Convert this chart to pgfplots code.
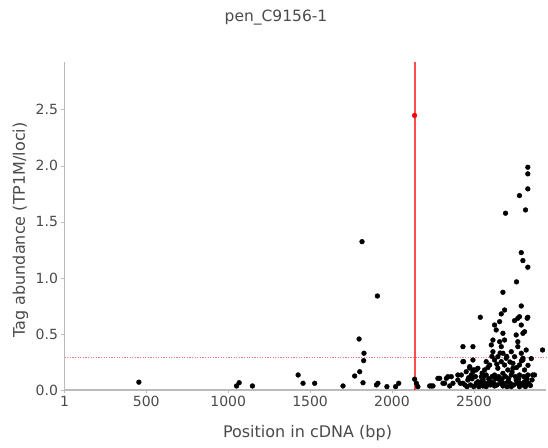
\documentclass[border=0pt]{standalone}
\usepackage{fontspec}
\setmainfont{DejaVu Sans}
\usepackage{pgfplots}
\pgfplotsset{compat=1.18}

\definecolor{spine}{HTML}{BBBBBB}
\definecolor{txt}{HTML}{4A4A4A}
\definecolor{pinkline}{HTML}{F27C7C}

\begin{document}
\begin{tikzpicture}
\path[use as bounding box] (-64.5pt,-57pt) rectangle (483.5pt,390pt);
\begin{axis}[
  at={(0,0)}, anchor=south west,
  scale only axis, width=481.5pt, height=328.3pt,
  xmin=1, xmax=2940, ymin=0, ymax=2.93,
  axis x line*=bottom, axis y line*=left,
  axis line style={spine, line width=1.6pt},
  tick align=outside, major tick length=3pt,
  tick style={spine, line width=0.8pt},
  xtick={1,500,1000,1500,2000,2500},
  ytick={0,0.5,1,1.5,2,2.5},
  yticklabel style={/pgf/number format/.cd, fixed, fixed zerofill, precision=1},
  xticklabel style={/pgf/number format/1000 sep={}},
  /pgf/number format/assume math mode=true,
  ticklabel style={font=\fontsize{14}{16}\selectfont, text=txt},
  clip=false,
]
\addplot[pinkline, dash pattern=on 1.3pt off 1.3pt, line width=1pt] coordinates {(1,0.29) (2940,0.29)};
\addplot[red, opacity=0.7, line width=2pt] coordinates {(2138,0) (2138,2.93)};
\addplot[only marks, mark=*, mark size=2.4pt, mark options={draw=black, fill=black}] coordinates {
(455,0.07)(1051,0.036)(1067,0.065)(1148,0.036)(1427,0.134)(1457,0.06)(1528,0.06)
(1701,0.036)(1772,0.125)(1803,0.163)(1823,0.065)(1799,0.455)(1829,0.328)(1827,0.262)
(1817,1.324)(1911,0.839)(1905,0.045)(1914,0.06)(1969,0.03)(2022,0.03)(2041,0.06)
(2138,0.096)(2149,0.06)(2158,0.03)
(2230,0.036)(2240,0.036)(2250,0.036)(2280,0.104)(2291,0.104)(2311,0.06)(2321,0.06)
(2332,0.104)(2341,0.119)(2352,0.036)(2362,0.119)(2372,0.06)(2402,0.134)(2402,0.089)
(2417,0.06)(2423,0.134)(2433,0.387)(2433,0.253)(2433,0.06)(2437,0.253)(2453,0.163)
(2463,0.089)(2474,0.208)(2474,0.196)(2484,0.134)(2494,0.387)(2494,0.268)(2494,0.179)
(2494,0.163)(2504,0.179)(2514,0.179)(2514,0.06)(2524,0.194)(2524,0.074)(2539,0.649)
(2545,0.119)(2555,0.036)(2555,0.089)(2565,0.06)
(2789,0.75)(2687,0.714)(2667,0.679)(2778,0.654)(2829,0.649)(2748,0.619)(2657,0.61)
(2789,0.58)(2626,0.58)(2636,0.536)(2677,0.506)(2758,0.491)(2799,0.506)(2616,0.446)
(2657,0.431)(2687,0.446)(2768,0.431)(2606,0.402)(2667,0.387)(2768,0.387)(2819,0.357)
(2919,0.357)(2616,0.342)(2677,0.328)(2728,0.342)(2789,0.328)(2646,0.297)(2697,0.283)
(2748,0.297)(2575,0.253)(2626,0.268)(2667,0.253)(2799,0.268)(2596,0.223)(2687,0.223)
(2738,0.238)(2778,0.223)(2565,0.179)(2646,0.194)(2707,0.179)(2738,0.194)(2809,0.179)
(2859,0.134)(2575,0.134)(2626,0.134)(2677,0.149)(2728,0.134)(2778,0.134)(2829,0.134)
(2555,0.089)(2606,0.074)(2657,0.089)(2707,0.074)(2758,0.089)(2809,0.074)(2575,0.03)
(2626,0.036)(2677,0.036)(2728,0.03)(2778,0.03)(2819,0.045)(2870,0.134)
(2768,0.64)(2825,0.64)(2809,0.52)(2799,0.283)
(2677,0.872)(2760,0.965)(2789,1.226)(2799,1.155)(2829,1.096)(2829,1.988)(2829,1.929)
(2829,1.795)(2778,1.735)(2693,1.578)(2815,1.607)
(2445,0.045)(2458,0.03)(2468,0.11)(2479,0.045)(2489,0.1)(2499,0.03)(2509,0.12)
(2519,0.045)(2530,0.03)(2540,0.07)(2550,0.15)(2560,0.12)(2585,0.06)(2590,0.1)
(2600,0.045)(2611,0.12)(2621,0.06)(2631,0.1)(2641,0.045)(2651,0.12)(2662,0.06)
(2672,0.1)(2682,0.06)(2692,0.12)(2702,0.03)(2712,0.1)(2722,0.06)(2733,0.16)
(2743,0.045)(2753,0.12)(2763,0.06)(2773,0.1)(2783,0.06)(2794,0.045)(2804,0.12)
(2814,0.03)(2824,0.1)(2834,0.06)(2845,0.04)(2855,0.09)
(2585,0.2)(2610,0.3)(2640,0.23)(2660,0.33)(2700,0.3)(2720,0.25)(2760,0.2)
(2790,0.26)(2830,0.22)(2850,0.28)
};
\addplot[only marks, mark=*, mark size=2.4pt, mark options={draw=red, fill=red}] coordinates {(2138,2.45)};
\end{axis}
\node[anchor=center, text=txt, font=\fontsize{15.5}{18}\selectfont] at (211.5pt,372pt) {pen\_C9156-1};
\node[anchor=base, text=txt, font=\fontsize{16}{19}\selectfont] at (243pt,-47pt) {Position in cDNA (bp)};
\node[anchor=center, rotate=90, text=txt, font=\fontsize{16}{19}\selectfont] at (-44pt,160pt) {Tag abundance (TP1M/loci)};
\end{tikzpicture}
\end{document}
